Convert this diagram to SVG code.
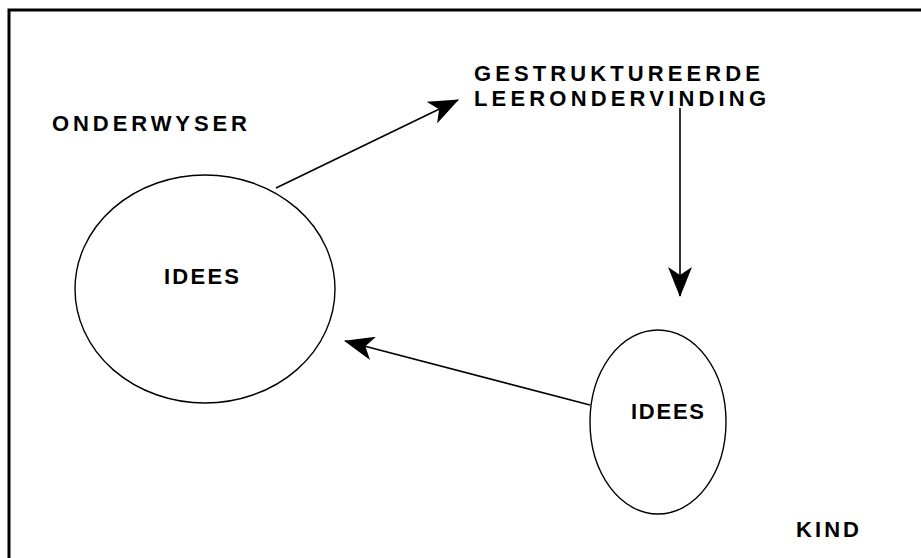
<svg xmlns="http://www.w3.org/2000/svg" width="921" height="558" viewBox="0 0 921 558">
<style>
.frame{fill:none;stroke:#000;stroke-width:3}
.node{fill:#fff;stroke:#000;stroke-width:1.4}
.lbl{font-family:"Liberation Sans",Arial,sans-serif;font-weight:bold;font-size:22px;fill:#000}
.conn{stroke:#000;stroke-width:1.6;fill:none}
</style>
<defs>
<marker id="ah" viewBox="0 0 30 24" refX="29" refY="12" markerWidth="30" markerHeight="24" markerUnits="userSpaceOnUse" orient="auto">
<path d="M0,0 L30,12 L0,24 L8,12 Z" fill="#000"/>
</marker>
</defs>
<rect width="921" height="558" fill="#fff"/>
<path class="frame" d="M9,558 V10 H921"/>
<g id="gestruktureerde">
<text class="lbl" x="474" y="81" textLength="286" lengthAdjust="spacing">GESTRUKTUREERDE</text>
<text class="lbl" x="474" y="106" textLength="292" lengthAdjust="spacing">LEERONDERVINDING</text>
</g>
<g id="onderwyser">
<text class="lbl" x="52" y="131" textLength="195" lengthAdjust="spacing">ONDERWYSER</text>
</g>
<g id="idees-onderwyser">
<ellipse class="node" cx="205" cy="289" rx="130" ry="114"/>
<text class="lbl" x="164" y="284" textLength="75" lengthAdjust="spacing">IDEES</text>
</g>
<g id="idees-kind">
<ellipse class="node" cx="658" cy="422" rx="68" ry="92"/>
<text class="lbl" x="631" y="419" textLength="73" lengthAdjust="spacing">IDEES</text>
</g>
<g id="kind">
<text class="lbl" x="796" y="537" textLength="63" lengthAdjust="spacing">KIND</text>
</g>
<g id="connectors">
<line class="conn" x1="276" y1="188" x2="458" y2="100" marker-end="url(#ah)"/>
<line class="conn" x1="680" y1="108" x2="680" y2="296" marker-end="url(#ah)"/>
<line class="conn" x1="590" y1="405" x2="345" y2="341" marker-end="url(#ah)"/>
</g>
</svg>
